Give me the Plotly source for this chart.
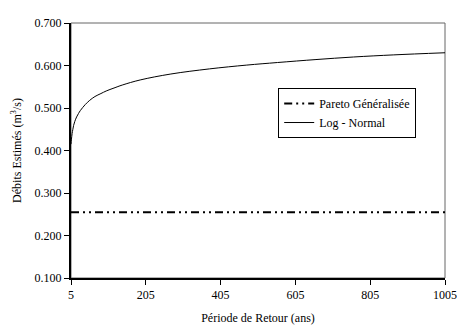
import plotly.graph_objects as go

# Data
periods = [5, 6, 7, 8, 10, 12, 15, 20, 25, 30, 43, 55, 69, 85, 99, 120, 142, 190,
           272, 375, 475, 557, 660, 760, 868, 1005]
lognormal = [0.415, 0.425, 0.433, 0.440, 0.450, 0.459, 0.468, 0.479, 0.487, 0.494,
             0.508, 0.518, 0.527, 0.534, 0.540, 0.547, 0.554, 0.566,
             0.580, 0.592, 0.601, 0.607, 0.614, 0.620, 0.625, 0.630]
pareto_x = [5, 1005]
pareto = [0.255, 0.255]

x_ticks = [5, 205, 405, 605, 805, 1005]
y_ticks = [0.1, 0.2, 0.3, 0.4, 0.5, 0.6, 0.7]
y_labels = ["0.100", "0.200", "0.300", "0.400", "0.500", "0.600", "0.700"]

font_family = "Liberation Serif, Times New Roman, serif"

fig = go.Figure()
fig.add_trace(go.Scatter(
    x=pareto_x, y=pareto, mode="lines", name="Pareto Généralisée",
    line=dict(color="black", width=2, dash="8px,4px,2px,4px,2px,4px"),
))
fig.add_trace(go.Scatter(
    x=periods, y=lognormal, mode="lines", name="Log - Normal",
    line=dict(color="black", width=1, shape="spline"),
))

fig.add_shape(type="rect", xref="paper", yref="paper", x0=0, x1=1, y0=0, y1=1,
              line=dict(color="#666666", width=1), layer="below")

# page body adds an 8px offset, so the figure is 8px smaller on each axis
fig.update_layout(
    width=457, height=323,
    margin=dict(l=59, r=12, t=8, b=49),
    paper_bgcolor="white", plot_bgcolor="white",
    font=dict(family=font_family, size=12, color="black"),
    showlegend=True,
    legend=dict(
        x=0.554, y=0.745, xanchor="left", yanchor="top",
        bgcolor="white", bordercolor="black", borderwidth=1,
        font=dict(family=font_family, size=12, color="black"),
        tracegroupgap=0,
    ),
    xaxis=dict(
        range=[5, 1005], tickvals=x_ticks, ticktext=[str(v) for v in x_ticks],
        showgrid=False, zeroline=False, showline=True, linecolor="black", linewidth=2,
        ticks="outside", ticklen=5, tickwidth=1, tickcolor="black",
        tickfont=dict(family=font_family, size=12),
        title=dict(text="Période de Retour (ans)", font=dict(family=font_family, size=12), standoff=12),
    ),
    yaxis=dict(
        range=[0.1, 0.7], tickvals=y_ticks, ticktext=y_labels,
        showgrid=False, zeroline=False, showline=True, linecolor="black", linewidth=2,
        ticks="outside", ticklen=5, tickwidth=1, tickcolor="black",
        tickfont=dict(family=font_family, size=12),
        title=dict(text="Débits Estimés (m<sup>3</sup>/s)", font=dict(family=font_family, size=12), standoff=10),
    ),
)

fig.write_html("out.html")
